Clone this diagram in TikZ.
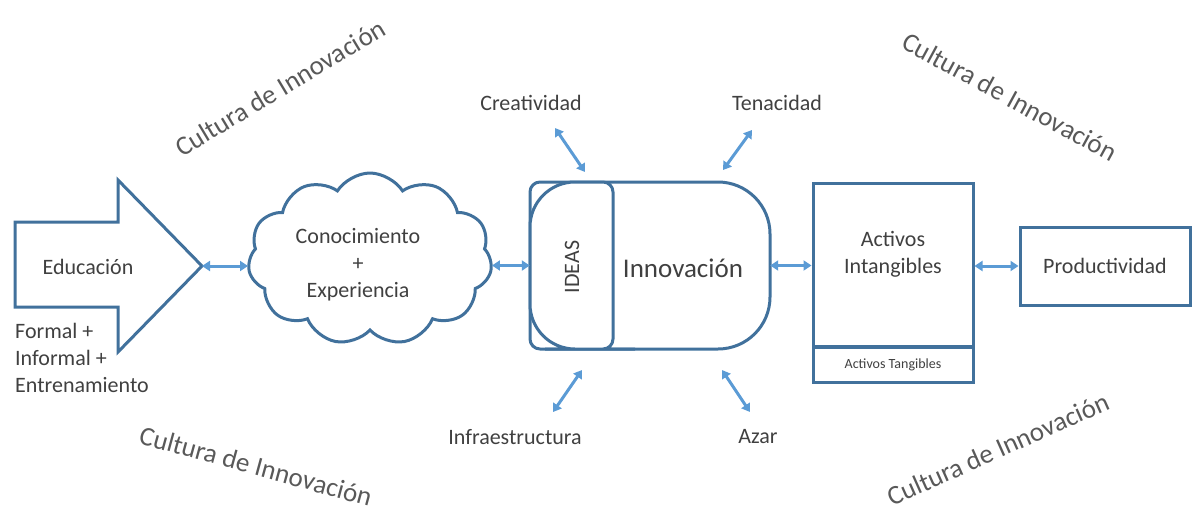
\documentclass[tikz,border=0pt]{standalone}
\usepackage{fontspec}
\setmainfont{Carlito}
\usetikzlibrary{shapes.symbols,arrows.meta}

\definecolor{frameblue}{HTML}{41719C}
\definecolor{linkblue}{HTML}{5B9BD5}
\definecolor{txtgray}{HTML}{404040}
\definecolor{culturagray}{HTML}{595959}

\tikzset{
  frame/.style={draw=frameblue, line width=3pt, fill=white},
  lbl/.style={font=\fontsize{22}{27}\selectfont, text=txtgray, align=center},
  biarrow/.style={{Triangle[length=8pt,width=10pt]}-{Triangle[length=8pt,width=10pt]}, draw=linkblue, line width=3pt},
  cultura/.style={font=\fontsize{27}{30}\selectfont, text=culturagray},
}

\begin{document}
\begin{tikzpicture}[x=1pt, y=-1pt]
  \useasboundingbox (0,0) rectangle (1193,515);

  % Educacion arrow
  \draw[frame] (15,222) -- (118,222) -- (118,180) -- (202,266) -- (118,352) -- (118,307) -- (15,307) -- cycle;
  \coordinate (eduTip) at (202,266);
  \node[lbl] (edu) at (88,267) {Educación};
  \node[lbl, align=left, anchor=west, inner sep=0] (eduTipos) at (15,358) {Formal +\\Informal +\\Entrenamiento};

  % cloud
  \node[frame, cloud, cloud puffs=11, cloud puff arc=115, aspect=1.4,
        minimum width=244, minimum height=172] (conoc) at (370,259) {};
  \node[lbl] (conocTxt) at (358,265) {Conocimiento\\+\\Experiencia};

  % Innovacion with the IDEAS block on its left
  \draw[frame] (530,266) [rounded corners=10] -- (530,182) -- (650,182) [rounded corners=52]
    -- (770,182) -- (770,349) -- (650,349) [rounded corners=10] -- (530,349) -- cycle;
  \draw[frame] (613,266) [rounded corners=10] -- (613,182) -- (590,182) [rounded corners=45]
    -- (530,182) -- (530,349) -- (590,349) [rounded corners=10] -- (613,349) -- cycle;
  \node[minimum width=240, minimum height=167, inner sep=0] (innov) at (650,265.5) {};
  \node[lbl, rotate=90] (ideas) at (572,267) {IDEAS};
  \node[lbl, font=\fontsize{27}{30}\selectfont] (innovTxt) at (683,268) {Innovación};

  % Activos
  \node[frame, minimum width=160, minimum height=199, inner sep=0] (activos) at (893,282.5) {};
  \draw[frameblue, line width=4.5pt] (813,347) -- (973,347);
  \node[lbl] (intang) at (893,254) {Activos\\Intangibles};
  \node[lbl, font=\fontsize{14}{16}\selectfont] (tang) at (893,365) {Activos Tangibles};

  % Productividad
  \node[frame, lbl, minimum width=170, minimum height=78] (prod) at (1105,266) {Productividad};

  % links along the chain
  \draw[biarrow] (eduTip) -- (eduTip -| conoc.west);
  \draw[biarrow] (conoc.east |- innov.west) -- (innov.west);
  \draw[biarrow] (innov.east) -- (innov.east -| activos.west);
  \draw[biarrow] (activos.east |- prod.west) -- (prod.west);

  % factors around the innovation
  \node[lbl] (crea) at (531,103) {Creatividad};
  \node[lbl] (tena) at (777,103) {Tenacidad};
  \node[lbl] (infra) at (515,437) {Infraestructura};
  \node[lbl] (azar) at (758,437) {Azar};
  \coordinate (creaA) at (555,128); \coordinate (creaB) at (585,172);
  \coordinate (tenaA) at (752,130); \coordinate (tenaB) at (723,170);
  \coordinate (infraA) at (553,412); \coordinate (infraB) at (582,370);
  \coordinate (azarA) at (750,412); \coordinate (azarB) at (722,370);
  \foreach \f in {crea,tena,infra,azar}
    \draw[biarrow] (\f A) -- (\f B);

  % culture all around
  \node[cultura, rotate=31] (cult1) at (280,88) {Cultura de Innovación};
  \node[cultura, rotate=-28.5] (cult2) at (1010,97) {Cultura de Innovación};
  \node[cultura, rotate=-15.3] (cult3) at (256,466) {Cultura de Innovación};
  \node[cultura, rotate=24] (cult4) at (998,449) {Cultura de Innovación};
\end{tikzpicture}
\end{document}
